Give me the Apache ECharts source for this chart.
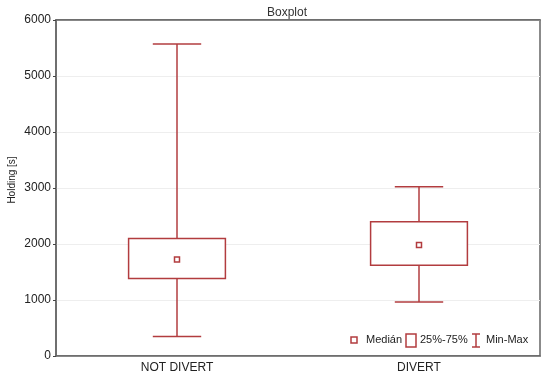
<!DOCTYPE html>
<html><head><meta charset="utf-8">
<script src="https://cdn.jsdelivr.net/npm/echarts@6/dist/echarts.min.js"></script>
<style>html,body{margin:0;padding:0;background:#fff}#c{width:550px;height:380px}</style>
</head><body><div id="c"></div>
<script>
var categories = ['NOT DIVERT', 'DIVERT'];
var minVals = [348, 966];
var q1Vals = [1382, 1619];
var medianVals = [1721, 1983];
var q3Vals = [2100, 2398];
var maxVals = [5572, 3022];
var yTicks = [0, 1000, 2000, 3000, 4000, 5000, 6000];
var legendLabels = ['Medián', '25%-75%', 'Min-Max'];

var RED = '#b23c3f';
var chart = echarts.init(document.getElementById('c'), null, {renderer: 'canvas'});

var rows = categories.map(function (c, i) {
  return [i, minVals[i], q1Vals[i], medianVals[i], q3Vals[i], maxVals[i]];
});

function renderBox(params, api) {
  var idx = api.value(0);
  var pMin = api.coord([idx, api.value(1)]);
  var pQ1 = api.coord([idx, api.value(2)]);
  var pMed = api.coord([idx, api.value(3)]);
  var pQ3 = api.coord([idx, api.value(4)]);
  var pMax = api.coord([idx, api.value(5)]);
  var band = api.size([1, 0])[0];
  var bw = band * 0.4;
  var cw = band * 0.2;
  var x = pQ1[0];
  var st = {stroke: RED, lineWidth: 1.5, fill: null};
  return {
    type: 'group',
    children: [
      {type: 'line', shape: {x1: x, y1: pMax[1], x2: x, y2: pQ3[1]}, style: st},
      {type: 'line', shape: {x1: x, y1: pQ1[1], x2: x, y2: pMin[1]}, style: st},
      {type: 'line', shape: {x1: x - cw / 2, y1: pMax[1], x2: x + cw / 2, y2: pMax[1]}, style: st},
      {type: 'line', shape: {x1: x - cw / 2, y1: pMin[1], x2: x + cw / 2, y2: pMin[1]}, style: st},
      {type: 'rect', shape: {x: x - bw / 2, y: pQ3[1], width: bw, height: pQ1[1] - pQ3[1]}, style: {stroke: RED, lineWidth: 1.5, fill: '#fff'}},
      {type: 'rect', shape: {x: pMed[0] - 2.5, y: pMed[1] - 2.5, width: 5, height: 5}, style: {stroke: RED, lineWidth: 1.5, fill: '#fff'}}
    ]
  };
}

var lx = 351, ly = 340;
var lf = {fontFamily: 'Liberation Sans', fontSize: 11, fill: '#222', verticalAlign: 'middle'};
chart.setOption({
  animation: false,
  title: {text: 'Boxplot', left: 282, top: 2, textAlign: 'center',
    textStyle: {fontFamily: 'Liberation Sans', fontSize: 12, fontWeight: 'normal', color: '#333'}},
  grid: {left: 56, right: 10, top: 20, bottom: 24, outerBoundsMode: 'none', containLabel: false,
    show: true, borderColor: '#666', borderWidth: 1.5, backgroundColor: 'transparent'},
  xAxis: [{
    type: 'category', data: categories,
    axisLine: {lineStyle: {color: '#666', width: 1.5}},
    axisTick: {alignWithLabel: true, length: 3, inside: false, lineStyle: {color: '#444'}},
    axisLabel: {fontFamily: 'Liberation Sans', fontSize: 12, color: '#222', margin: 6},
    splitLine: {show: false}
  }, {
    type: 'category', data: categories, position: 'top',
    axisLine: {lineStyle: {color: '#666', width: 1.5}},
    axisTick: {alignWithLabel: true, length: 3, inside: true, lineStyle: {color: '#444'}},
    axisLabel: {show: false},
    splitLine: {show: false}
  }],
  yAxis: {
    type: 'value', min: 0, max: 6000, interval: 1000,
    name: 'Holding [s]', nameLocation: 'middle', nameGap: 39, nameRotate: 90, nameMoveOverlap: false,
    nameTextStyle: {fontFamily: 'Liberation Sans', fontSize: 10, color: '#222', padding: [0, 0, 0, 16]},
    axisLine: {show: true, lineStyle: {color: '#666', width: 1.5}},
    axisTick: {show: true, length: 3, lineStyle: {color: '#444'}},
    axisLabel: {fontFamily: 'Liberation Sans', fontSize: 12, color: '#222', margin: 5,
      formatter: function (v) { return yTicks.indexOf(v) >= 0 ? String(v) : ''; }},
    splitLine: {show: true, lineStyle: {color: '#eeeeee', width: 1}}
  },
  series: [{
    type: 'custom', renderItem: renderBox, data: rows,
    encode: {x: 0, y: [1, 2, 3, 4, 5]}
  }],
  graphic: [
    {type: 'rect', shape: {x: lx, y: ly - 3, width: 6, height: 6}, style: {stroke: RED, lineWidth: 1.5, fill: '#fff'}},
    {type: 'text', x: 366, y: ly, style: Object.assign({text: legendLabels[0]}, lf)},
    {type: 'rect', shape: {x: 406, y: ly - 6, width: 10, height: 13}, style: {stroke: RED, lineWidth: 1.5, fill: '#fff'}},
    {type: 'text', x: 420, y: ly, style: Object.assign({text: legendLabels[1]}, lf)},
    {type: 'line', shape: {x1: 476, y1: ly - 6, x2: 476, y2: ly + 7}, style: {stroke: RED, lineWidth: 1.5}},
    {type: 'line', shape: {x1: 472, y1: ly - 6, x2: 480, y2: ly - 6}, style: {stroke: RED, lineWidth: 1.5}},
    {type: 'line', shape: {x1: 472, y1: ly + 7, x2: 480, y2: ly + 7}, style: {stroke: RED, lineWidth: 1.5}},
    {type: 'text', x: 486, y: ly, style: Object.assign({text: legendLabels[2]}, lf)}
  ]
});
</script></body></html>
